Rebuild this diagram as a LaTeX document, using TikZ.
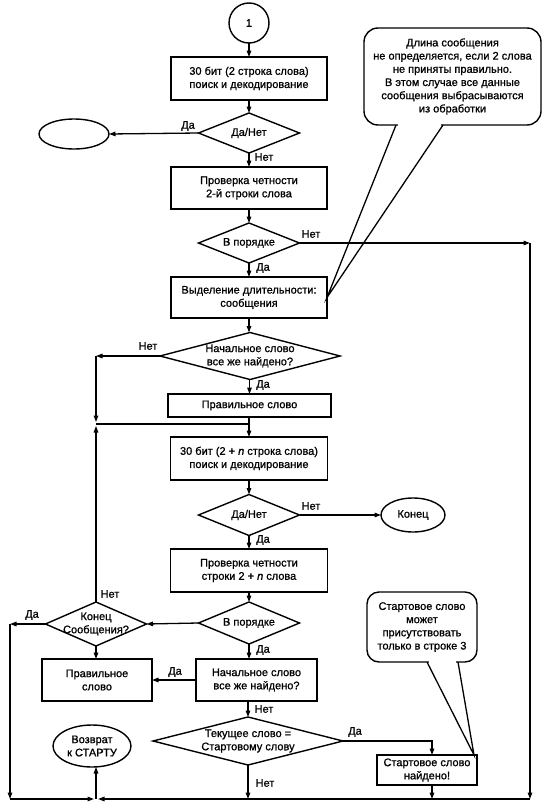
\documentclass[tikz,border=0pt]{standalone}
\usepackage{fontspec}
\setmainfont{Liberation Sans}[FakeBold=0.9]
\usetikzlibrary{shapes.geometric,arrows.meta}
\newcommand\fsz{\fontsize{11}{13.2}\selectfont}
\tikzset{
  base/.style={draw, line width=1.4pt, inner sep=0pt, outer sep=0pt, font=\fsz, align=center},
  box/.style={base, rectangle},
  dia/.style={base, diamond},
  ell/.style={base, ellipse},
  note/.style={base, rectangle, rounded corners=14pt},
  txt/.style={font=\fsz, align=center, inner sep=0pt},
  lab/.style={font=\fsz, inner sep=0pt},
  line/.style={line width=1.3pt},
  arr/.style={line, -{Triangle[length=6.5pt,width=4.5pt]}},
}
\begin{document}
\begin{tikzpicture}[x=1pt,y=-1pt]
\fill[white] (0,0) rectangle (551,806);
\useasboundingbox (0,0) rectangle (551,806);

% ---- nodes ----
\node[base, circle, minimum size=40pt] (c1) at (249,23) {1};
\node[box, minimum width=156pt, minimum height=43pt] (b1) at (249,78.5) {30 бит (2 строка слова)\\поиск и декодирование};
\node[dia, minimum width=101pt, minimum height=40pt] (d1) at (249,133) {};
\node[txt] at (d1) {Да/Нет};
\node[ell, minimum width=70pt, minimum height=30pt] (e1) at (74,134) {};
\node[box, minimum width=156pt, minimum height=42pt] (b2) at (249,188) {Проверка четности\\2-й строки слова};
\node[dia, minimum width=101pt, minimum height=40pt] (d2) at (249,243) {};
\node[txt] at (d2) {В порядке};
\node[box, minimum width=156pt, minimum height=41pt] (b3) at (249,297.5) {Выделение длительности:\\сообщения};
\node[dia, minimum width=180pt, minimum height=47pt] (d3) at (250,356) {};
\node[txt] at (d3) {Начальное слово\\все же найдено?};
\node[box, minimum width=163pt, minimum height=23pt] (b4) at (249.5,405.5) {Правильное слово};
\node[box, minimum width=157pt, minimum height=43pt] (b5) at (249,458.5) {30 бит (2 + \textit{n} строка слова)\\поиск и декодирование};
\node[dia, minimum width=101pt, minimum height=41pt] (d4) at (249,515) {};
\node[txt] at (d4) {Да/Нет};
\node[ell, minimum width=64pt, minimum height=34pt] (e2) at (413,515) {};
\node[txt] at (e2) {Конец};
\node[box, minimum width=157pt, minimum height=43pt] (b6) at (249,570.5) {Проверка четности\\строки 2 + \textit{n} слова};
\node[dia, minimum width=101pt, minimum height=42pt] (d5) at (249,623) {};
\node[txt] at (d5) {В порядке};
\node[dia, minimum width=101pt, minimum height=44pt] (d6) at (96,624) {};
\node[txt] at (d6) {Конец\\Сообщения?};
\node[box, minimum width=110pt, minimum height=42pt] (b7) at (97,680) {Правильное\\слово};
\node[box, minimum width=121pt, minimum height=42pt] (b8) at (256.5,680) {Начальное слово\\все же найдено?};
\node[dia, minimum width=190pt, minimum height=48pt] (d7) at (248,741) {};
\node[txt] at (d7) {Текущее слово =\\Стартовому слову};
\node[box, minimum width=100pt, minimum height=30pt] (b9) at (427,770) {Стартовое слово\\найдено!};
\node[ell, minimum width=78pt, minimum height=42pt] (e3) at (92,746) {};
\node[txt] at (e3) {Возврат\\к СТАРТУ};

% callouts
\node[note, minimum width=177pt, minimum height=97pt] (n1) at (452.5,76.5) {Длина сообщения\\не определяется, если 2 слова\\не приняты правильно.\\В этом случае все данные\\сообщения выбрасываются\\из обработки};
\node[note, minimum width=110pt, minimum height=70pt, rounded corners=12pt] (n2) at (422,627) {Стартовое слово\\может\\присутствовать\\только в строке 3};
\coordinate (n1a) at (396,125);
\coordinate (n1b) at (443,125);
\coordinate (n2a) at (427,662);
\coordinate (n2b) at (458,662);
\coordinate (n2t) at (474,755);
\fill[white] (397.8,122) rectangle (441.2,128);
\fill[white] (428.8,659) rectangle (456.2,665);
\draw[line] (n1a) -- (b3.east) -- (n1b);
\draw[line] (n2a) -- (n2t) -- (n2b);

% helper coordinates
\coordinate (R1) at (530,243);
\coordinate (Rb) at (530,799);
\coordinate (L1) at (96,356);
\coordinate (m1L) at (96,424);
\coordinate (m1) at (249,424);
\coordinate (L2) at (10,624);
\coordinate (Lb) at (10,799);
\coordinate (Bm) at (96,799);
\coordinate (R2) at (432,741);

% ---- connectors ----
\draw[arr] (c1) -- (b1);
\draw[arr] (b1) -- (d1);
\draw[arr] (d1.west) -- (e1.east);
\draw[arr] (d1.south) -- (b2.north);
\draw[arr] (b2) -- (d2);
\draw[arr] (d2.east) -- (R1);
\draw[arr] (R1) -- (Rb);
\draw[arr] (d2.south) -- (b3.north);
\draw[arr] (b3.south) -- (b3.south |- d3.north);
\draw[arr] (d3.west) -- (L1);
\draw[arr, shorten >=2pt] (L1) -- (m1L);
\draw[arr] (d3.south -| b4.north) -- (b4.north);
\draw[line] (b4.south -| m1) -- (m1);
\draw[line] (m1L) -- (m1);
\draw[arr] (m1) -- (b5.north -| m1);
\draw[arr] (b5) -- (d4);
\draw[arr] (d4.east) -- (e2.west);
\draw[arr] (d4.south) -- (b6.north);
\draw[arr] (b6) -- (d5);
\draw[arr] (d5.west) -- (d6.east);
\draw[arr, shorten >=2pt] (d6.north) -- (m1L);
\draw[arr] (d6.west) -- (L2);
\draw[arr] (L2) -- (Lb);
\draw[arr] (d6.south) -- (d6.south |- b7.north);
\draw[arr] (d5.south) -- (d5.south |- b8.north);
\draw[arr] (b8.west) -- (b8.west -| b7.east);
\draw[arr] (d7.north |- b8.south) -- (d7.north);
\draw[arr] (d7.east) -| (R2 |- b9.north);
\draw[arr] (R2 |- b9.south) -- (R2 |- Bm);
\draw[arr] (d7.south) -- (d7.south |- Bm);
\draw[arr, shorten >=2pt] (Lb) -- (Bm);
\draw[arr, shorten >=2pt] (Rb) -- (Bm);
\draw[arr] (Bm) -- (Bm |- e3.south);

% ---- labels ----
\node[lab] at (188,126) {Да};
\node[lab] at (264,157) {Нет};
\node[lab] at (311,234) {Нет};
\node[lab] at (263,268) {Да};
\node[lab] at (148,346) {Нет};
\node[lab] at (263,385) {Да};
\node[lab] at (311,506) {Нет};
\node[lab] at (263,540) {Да};
\node[lab] at (110,594) {Нет};
\node[lab] at (32,615) {Да};
\node[lab] at (263,650) {Да};
\node[lab] at (175,672) {Да};
\node[lab] at (264,709) {Нет};
\node[lab] at (355,732) {Да};
\node[lab] at (265,783) {Нет};
\end{tikzpicture}
\end{document}
